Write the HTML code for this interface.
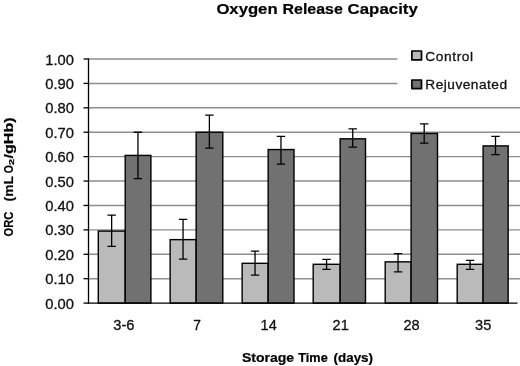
<!DOCTYPE html>
<html lang="en">
<head>
<meta charset="utf-8">
<title>Oxygen Release Capacity</title>
<style>
html,body{margin:0;padding:0;background:#fff;}
body{width:520px;height:366px;overflow:hidden;}
svg{display:block;}
text{font-family:"Liberation Sans",sans-serif;fill:#111;stroke:#111;stroke-width:0.3px;}
.b,.b text{font-weight:bold;fill:#000;stroke:#000;stroke-width:0.2px;}
</style>
</head>
<body>
<svg width="520" height="366" viewBox="0 0 520 366">
<rect width="520" height="366" fill="#fff"/>

<g stroke="#8e8e8e" stroke-width="1.45" fill="none">
<line x1="88.5" y1="278.69" x2="520" y2="278.69"/>
<line x1="88.5" y1="254.28" x2="520" y2="254.28"/>
<line x1="88.5" y1="229.87" x2="520" y2="229.87"/>
<line x1="88.5" y1="205.46" x2="520" y2="205.46"/>
<line x1="88.5" y1="181.05" x2="520" y2="181.05"/>
<line x1="88.5" y1="156.64" x2="520" y2="156.64"/>
<line x1="88.5" y1="132.23" x2="520" y2="132.23"/>
<line x1="88.5" y1="107.82" x2="520" y2="107.82"/>
<line x1="88.5" y1="83.41" x2="520" y2="83.41"/>
<line x1="88.5" y1="59.00" x2="520" y2="59.00"/>
</g>
<rect x="397.5" y="44" width="123" height="54" fill="#fff"/>
<g stroke="#000" stroke-width="1.4">
<rect x="98.30" y="231.09" width="26.90" height="72.01" fill="#bababa"/>
<rect x="125.20" y="155.42" width="25.70" height="147.68" fill="#717171"/>
<rect x="170.15" y="239.63" width="26.00" height="63.47" fill="#bababa"/>
<rect x="196.15" y="132.23" width="26.65" height="170.87" fill="#717171"/>
<rect x="242.15" y="263.31" width="26.00" height="39.79" fill="#bababa"/>
<rect x="268.15" y="149.56" width="25.85" height="153.54" fill="#717171"/>
<rect x="313.20" y="264.29" width="26.95" height="38.81" fill="#bababa"/>
<rect x="340.15" y="138.82" width="25.35" height="164.28" fill="#717171"/>
<rect x="385.20" y="261.85" width="25.90" height="41.25" fill="#bababa"/>
<rect x="411.10" y="133.45" width="26.40" height="169.65" fill="#717171"/>
<rect x="457.20" y="264.29" width="25.90" height="38.81" fill="#bababa"/>
<rect x="483.10" y="145.90" width="25.05" height="157.20" fill="#717171"/>
</g>
<g stroke="#000" stroke-width="1.3" fill="none">
<path d="M111.65 215.22V246.47M107.45 215.22h8.4M107.45 246.47h8.4"/>
<path d="M137.95 132.23V178.61M133.75 132.23h8.4M133.75 178.61h8.4"/>
<path d="M183.05 219.37V259.16M178.85 219.37h8.4M178.85 259.16h8.4"/>
<path d="M209.38 115.14V148.10M205.18 115.14h8.4M205.18 148.10h8.4"/>
<path d="M255.05 251.11V275.03M250.85 251.11h8.4M250.85 275.03h8.4"/>
<path d="M280.97 136.38V164.21M276.77 136.38h8.4M276.77 164.21h8.4"/>
<path d="M326.57 259.41V269.41M322.37 259.41h8.4M322.37 269.41h8.4"/>
<path d="M352.72 128.81V147.12M348.52 128.81h8.4M348.52 147.12h8.4"/>
<path d="M398.05 253.55V271.86M393.85 253.55h8.4M393.85 271.86h8.4"/>
<path d="M424.20 123.93V143.21M420.00 123.93h8.4M420.00 143.21h8.4"/>
<path d="M470.05 260.38V269.41M465.85 260.38h8.4M465.85 269.41h8.4"/>
<path d="M495.52 136.38V154.69M491.32 136.38h8.4M491.32 154.69h8.4"/>
</g>
<g stroke="#000" stroke-width="1.3" fill="none">
<line x1="88.5" y1="58.40" x2="88.5" y2="303.70"/>
<line x1="87.9" y1="303.1" x2="517.5" y2="303.1"/>
<line x1="83.5" y1="303.10" x2="88.5" y2="303.10"/>
<line x1="83.5" y1="278.69" x2="88.5" y2="278.69"/>
<line x1="83.5" y1="254.28" x2="88.5" y2="254.28"/>
<line x1="83.5" y1="229.87" x2="88.5" y2="229.87"/>
<line x1="83.5" y1="205.46" x2="88.5" y2="205.46"/>
<line x1="83.5" y1="181.05" x2="88.5" y2="181.05"/>
<line x1="83.5" y1="156.64" x2="88.5" y2="156.64"/>
<line x1="83.5" y1="132.23" x2="88.5" y2="132.23"/>
<line x1="83.5" y1="107.82" x2="88.5" y2="107.82"/>
<line x1="83.5" y1="83.41" x2="88.5" y2="83.41"/>
<line x1="83.5" y1="59.00" x2="88.5" y2="59.00"/>
</g>
<g font-size="14" text-anchor="end">
<text x="73.9" y="308.70" textLength="28.7" lengthAdjust="spacingAndGlyphs">0.00</text>
<text x="73.9" y="284.29" textLength="28.7" lengthAdjust="spacingAndGlyphs">0.10</text>
<text x="73.9" y="259.88" textLength="28.7" lengthAdjust="spacingAndGlyphs">0.20</text>
<text x="73.9" y="235.47" textLength="28.7" lengthAdjust="spacingAndGlyphs">0.30</text>
<text x="73.9" y="211.06" textLength="28.7" lengthAdjust="spacingAndGlyphs">0.40</text>
<text x="73.9" y="186.65" textLength="28.7" lengthAdjust="spacingAndGlyphs">0.50</text>
<text x="73.9" y="162.24" textLength="28.7" lengthAdjust="spacingAndGlyphs">0.60</text>
<text x="73.9" y="137.83" textLength="28.7" lengthAdjust="spacingAndGlyphs">0.70</text>
<text x="73.9" y="113.42" textLength="28.7" lengthAdjust="spacingAndGlyphs">0.80</text>
<text x="73.9" y="89.01" textLength="28.7" lengthAdjust="spacingAndGlyphs">0.90</text>
<text x="73.9" y="64.60" textLength="28.7" lengthAdjust="spacingAndGlyphs">1.00</text>
</g>
<g font-size="13.8">
<text x="113.3" y="329.5" textLength="21.2" lengthAdjust="spacingAndGlyphs">3-6</text>
<text x="193.2" y="329.5">7</text>
<text x="260.6" y="329.5" textLength="16.2" lengthAdjust="spacingAndGlyphs">14</text>
<text x="332.6" y="329.5" textLength="16.2" lengthAdjust="spacingAndGlyphs">21</text>
<text x="403.4" y="329.5" textLength="16.2" lengthAdjust="spacingAndGlyphs">28</text>
<text x="475.1" y="329.5" textLength="16.2" lengthAdjust="spacingAndGlyphs">35</text>
</g>
<rect x="411.9" y="51" width="9.6" height="8.9" fill="#bababa" stroke="#000" stroke-width="1.7" stroke-linejoin="round"/>
<rect x="411.9" y="80" width="9.6" height="8.6" fill="#717171" stroke="#000" stroke-width="1.7" stroke-linejoin="round"/>
<text x="425.3" y="60.8" font-size="13.7" textLength="47.8" lengthAdjust="spacing">Control</text>
<text x="425.3" y="89.4" font-size="13.7" textLength="81.8" lengthAdjust="spacing">Rejuvenated</text>
<g class="b" font-size="15.4">
<text x="216.4" y="14.4" textLength="61.2" lengthAdjust="spacingAndGlyphs">Oxygen</text>
<text x="282.6" y="14.4" textLength="60.2" lengthAdjust="spacingAndGlyphs">Release</text>
<text x="347.6" y="14.4" textLength="70.2" lengthAdjust="spacingAndGlyphs">Capacity</text>
</g>
<g class="b" font-size="12">
<text x="241.9" y="361.6" textLength="52.2" lengthAdjust="spacingAndGlyphs">Storage</text>
<text x="298.3" y="361.6" textLength="29.4" lengthAdjust="spacingAndGlyphs">Time</text>
<text x="333.6" y="361.6" textLength="39.4" lengthAdjust="spacingAndGlyphs">(days)</text>
</g>
<g class="b" transform="translate(13.1,0) rotate(-90)" font-size="12.4">
<text x="-236.4" y="0" textLength="24.8" lengthAdjust="spacingAndGlyphs">ORC</text>
<text x="-201.4" y="0" textLength="25.2" lengthAdjust="spacingAndGlyphs">(mL</text>
<text x="-173.3" y="0" textLength="8.2" lengthAdjust="spacingAndGlyphs">O</text>
<text x="-165.3" y="1.2" font-size="7.8" textLength="6.4" lengthAdjust="spacingAndGlyphs">2</text>
<text x="-158.6" y="0" textLength="41.2" lengthAdjust="spacingAndGlyphs">/gHb)</text>
</g>
</svg>
</body>
</html>
